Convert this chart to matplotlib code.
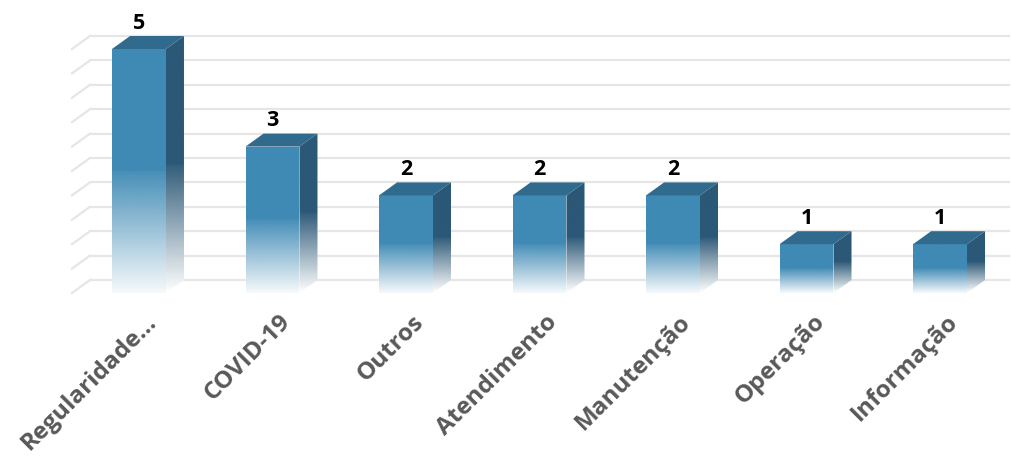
import numpy as np
import matplotlib
matplotlib.use('Agg')
import matplotlib.pyplot as plt
from matplotlib.patches import Polygon

# data
categorias = ['Regularidade...', 'COVID-19', 'Outros', 'Atendimento',
              'Manutenção', 'Operação', 'Informação']
valores = [5, 3, 2, 2, 2, 1, 1]

# look
c_front = np.array([0x3F, 0x8A, 0xB5]) / 255.0
c_side = np.array([0x2B, 0x58, 0x76]) / 255.0
c_top = '#306A8C'
c_grid = '#E6E6E6'
w = 0.202      # half width of the front face
dx = 0.135     # depth offset (x)
dy = 0.266     # depth offset (y)

fig = plt.figure(figsize=(10.12, 4.57), dpi=100)
ax = fig.add_axes([0, 0, 1, 1])
ax.axis('off')


def fade(col, a0, a1, n=200):
    # top half solid, bottom half fades to white
    y = np.linspace(0, 1, n)
    a = np.where(y >= 0.5, 1.0, a0 + (a1 - a0) * (y / 0.5))
    img = np.zeros((n, 1, 4))
    img[:, 0, :3] = col
    img[:, 0, 3] = a
    return img


# gridlines (back wall + left diagonal)
for g in np.arange(0, 5.01, 0.5):
    ax.plot([-0.367, 6.52], [g + dy, g + dy], color=c_grid, lw=1.6, zorder=1)
    ax.plot([-0.502, -0.367], [g, g + dy], color=c_grid, lw=1.6, zorder=1)

for i, v in enumerate(valores):
    front = [(i - w, 0), (i + w, 0), (i + w, v), (i - w, v)]
    side = [(i + w, 0), (i + w + dx, dy), (i + w + dx, v + dy), (i + w, v)]
    top = [(i - w, v), (i + w, v), (i + w + dx, v + dy), (i - w + dx, v + dy)]

    for pts in (front, side):
        ax.add_patch(Polygon(pts, closed=True, fc='white', ec='none', zorder=2))

    pf = Polygon(front, closed=True, fc='none', ec='none', zorder=3)
    ax.add_patch(pf)
    im = ax.imshow(fade(c_front, 0.05, 0.96), extent=[i - w, i + w, 0, v],
                   origin='lower', aspect='auto', interpolation='bilinear',
                   zorder=3)
    im.set_clip_path(pf)

    ps = Polygon(side, closed=True, fc='none', ec='none', zorder=3)
    ax.add_patch(ps)
    im2 = ax.imshow(fade(c_side, 0.0, 0.97), extent=[i + w, i + w + dx, 0, v + dy],
                    origin='lower', aspect='auto', interpolation='bilinear',
                    zorder=3)
    im2.set_clip_path(ps)

    ax.add_patch(Polygon(top, closed=True, fc=c_top, ec='none', zorder=4))

    ax.text(i, v + dy + 0.05, str(v), ha='center', va='bottom',
            fontsize=15.5, fontweight='bold', color='black', family='Open Sans')

    ax.text(i + 0.11, -0.52, categorias[i], rotation=45, rotation_mode='anchor',
            ha='right', va='center', fontsize=17.5, fontweight='bold',
            color='#595959', family='Open Sans')

ax.set_xlim(-1.041, 6.539)
ax.set_ylim(-3.361, 6.004)

fig.savefig('out.png', dpi=100)
